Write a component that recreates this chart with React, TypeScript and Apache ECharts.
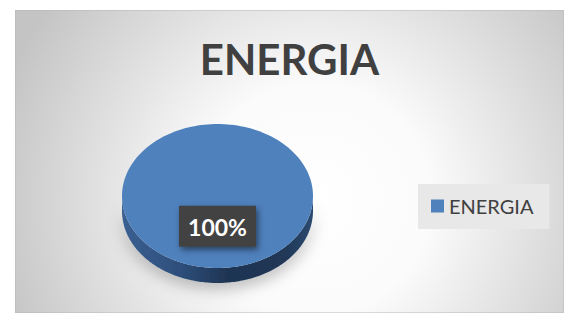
import React, { useEffect, useRef } from "react";
import * as echarts from "echarts";

const categories = ["ENERGIA"];
const values = [100];
const sliceColors = ["#4F81BD"];
const titleText = "ENERGIA";

export default function App() {
  const ref = useRef<HTMLDivElement>(null);
  useEffect(() => {
    if (!ref.current) return;
    const chart = echarts.init(ref.current, null, { renderer: "svg" });
    const total = values.reduce((a, b) => a + b, 0);
    const cx = 202.5, cy = 186, rx = 95.5, ry = 72, depth = 15;
    const N = 180;
    const pt = (a: number, dy = 0) => [cx + rx * Math.cos(a), cy + ry * Math.sin(a) + dy];

    const renderItem = (params: any, api: any) => {
      const i = params.dataIndex;
      const v = api.value(1);
      const before = values.slice(0, i).reduce((a, b) => a + b, 0);
      const a0 = -Math.PI / 2 + (before / total) * Math.PI * 2;
      const a1 = a0 + (v / total) * Math.PI * 2;
      const frac = v / total;
      const children: any[] = [];
      // side walls (front half only)
      for (const k of [-2 * Math.PI, 0, 2 * Math.PI]) {
        const s = Math.max(a0, k);
        const e = Math.min(a1, k + Math.PI);
        if (e > s) {
          const top: number[][] = [];
          const bot: number[][] = [];
          for (let j = 0; j <= N; j++) {
            const a = s + ((e - s) * j) / N;
            top.push(pt(a));
            bot.push(pt(a, depth));
          }
          children.push({
            type: "polygon",
            shape: { points: top.concat(bot.reverse()) },
            style: {
              fill: {
                type: "linear", x: cx - rx, y: 0, x2: cx + rx, y2: 0, global: true,
                colorStops: [
                  { offset: 0, color: "#3A6091" },
                  { offset: 0.3, color: "#2E4F7C" },
                  { offset: 0.55, color: "#1F3553" },
                  { offset: 0.85, color: "#203756" },
                  { offset: 1, color: "#2B4A70" },
                ],
              },
              shadowBlur: 16,
              shadowColor: "rgba(0,0,0,0.3)",
              shadowOffsetY: 5,
            },
          });
        }
      }
      const topPts: number[][] = [];
      if (frac < 1) topPts.push([cx, cy]);
      for (let j = 0; j <= N; j++) topPts.push(pt(a0 + ((a1 - a0) * j) / N));
      children.push({
        type: "polygon",
        shape: { points: topPts },
        style: { fill: sliceColors[i % sliceColors.length] },
      });
      const mid = (a0 + a1) / 2;
      const lr = frac >= 1 ? 0.42 : 0.6;
      const lx = cx + rx * lr * Math.cos(mid);
      const ly = cy + ry * lr * Math.sin(mid);
      const bw = 77, bh = 41;
      children.push({
        type: "rect",
        shape: { x: lx - bw / 2, y: ly - bh / 2, width: bw, height: bh },
        style: {
          fill: "#424242",
          shadowBlur: 6,
          shadowColor: "rgba(0,0,0,0.5)",
          shadowOffsetX: 2,
          shadowOffsetY: 3,
        },
      });
      children.push({
        type: "text",
        x: lx,
        y: ly + 1,
        style: {
          text: Math.round(frac * 100) + "%",
          fill: "#FFFFFF",
          font: 'bold 23px Lato',
          align: "center",
          verticalAlign: "middle",
        },
      });
      return { type: "group", children };
    };

    chart.setOption({
      animation: false,
      title: {
        text: titleText,
        left: "center",
        top: 23,
        textStyle: { fontFamily: "Lato", fontWeight: "bold", fontSize: 42, color: "#404040" },
      },
      graphic: [
        {
          type: "rect",
          z: -10,
          shape: { x: 0, y: 0, width: 549, height: 303 },
          style: {
            fill: {
              type: "radial", x: 300, y: 190, r: 330, global: true,
              colorStops: [
                { offset: 0, color: "#FFFFFF" },
                { offset: 0.35, color: "#FBFBFB" },
                { offset: 1, color: "#C4C4C4" },
              ],
            },
            stroke: "#B8B8B8",
            lineWidth: 1,
          },
        },
      ],
      legend: {
        data: categories,
        left: 403,
        top: 174,
        orient: "vertical",
        backgroundColor: "#E8E8E8",
        padding: [12, 16, 13, 13],
        itemWidth: 13,
        itemHeight: 13,
        itemGap: 6,
        icon: "rect",
        textStyle: { fontFamily: "Lato", fontSize: 20, color: "#404040", lineHeight: 20, padding: [0, 0, 0, 0] },
      },
      series: [
        {
          type: "custom",
          name: categories[0],
          coordinateSystem: "none",
          itemStyle: { color: sliceColors[0] },
          renderItem,
          data: values.map((v, i) => [i, v]),
        },
      ],
    });
    return () => chart.dispose();
  }, []);
  return (
    <div style={{ position: "fixed", left: 0, top: 0, width: 566, height: 313, background: "#FFFFFF" }}>
      <div ref={ref} style={{ position: "absolute", left: 15, top: 10, width: 549, height: 303 }} />
    </div>
  );
}
